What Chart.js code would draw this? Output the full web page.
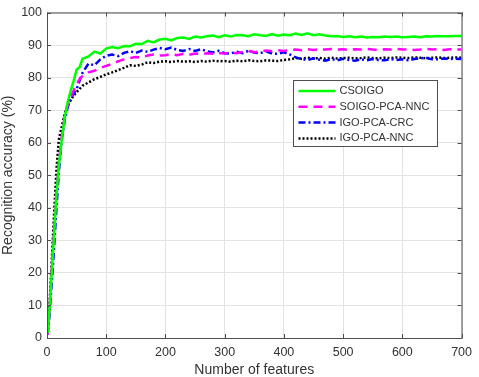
<!DOCTYPE html>
<html>
<head>
<meta charset="utf-8">
<script src="https://cdn.jsdelivr.net/npm/chart.js@4"></script>
<style>
  html, body { margin: 0; padding: 0; background: #fff; }
  #wrap { width: 479px; height: 377px; }
</style>
</head>
<body>
<div id="wrap"><canvas id="acc"></canvas></div>
<script>
// number of features (x positions of the samples)
const features = [1, 3, 5, 7, 10, 13, 16, 20, 25, 30, 35, 40, 45, 50, 55, 60, 70, 80, 90, 100,
  110, 120, 130, 140, 150, 160, 170, 180, 190, 200,
  210, 220, 230, 240, 250, 260, 270, 280, 290, 300,
  310, 320, 330, 340, 350, 360, 370, 380, 390, 400,
  410, 420, 430, 440, 450, 460, 470, 480, 490, 500,
  510, 520, 530, 540, 550, 560, 570, 580, 590, 600,
  610, 620, 630, 640, 650, 660, 670, 680, 690, 700];

const csoigo = [1.5, 5.5, 11, 17, 26, 35, 44, 53, 61, 68, 72.5, 76, 79, 82.5, 83.2, 85.8, 86.5, 88.0, 87.4, 88.9,
  89.4, 89.0, 89.7, 89.6, 90.4, 90.3, 91.3, 90.8, 91.7, 91.9,
  91.4, 92.2, 92.3, 91.9, 92.6, 92.3, 92.7, 92.9, 92.4, 93.0,
  92.6, 93.1, 93.0, 92.7, 93.3, 93.0, 92.8, 93.4, 92.9, 93.2,
  93.0, 93.5, 93.1, 93.6, 93.0, 93.3, 92.9, 92.7, 92.8, 92.5,
  92.7, 92.4, 92.6, 92.3, 92.5, 92.4, 92.6, 92.5, 92.6, 92.4,
  92.5, 92.6, 92.4, 92.7, 92.6, 92.8, 92.7, 92.7, 92.8, 92.8];

const soigoPcaNnc = [1, 5.5, 11, 17.5, 27, 36, 45, 54, 62, 68, 71.5, 74, 76, 78, 79.5, 80.5, 81.6, 82.1, 83.0, 83.6,
  84.2, 85.0, 85.6, 86.0, 86.3, 86.2, 86.8, 87.1, 86.8, 86.9,
  87.2, 86.9, 87.3, 87.0, 87.4, 87.2, 87.5, 87.3, 87.6, 87.4,
  87.7, 87.5, 87.9, 88.2, 87.8, 88.0, 88.3, 88.1, 88.4, 88.2,
  88.5, 88.6, 88.4, 88.7, 88.5, 88.7, 88.6, 88.8, 88.6, 88.7,
  88.5, 88.7, 88.6, 88.8, 88.6, 88.5, 88.7, 88.6, 88.8, 88.6,
  88.7, 88.5, 88.6, 88.8, 88.6, 88.7, 88.5, 88.7, 88.6, 88.6];

const igoPcaCrc = [1, 4.5, 9, 14.5, 22, 31, 40, 51, 61, 67, 71, 73.5, 75, 76.5, 79, 81.5, 84.3, 83.8, 85.6, 86.7,
  87.1, 86.6, 87.6, 88.1, 87.6, 88.3, 87.9, 88.6, 89.1, 88.7,
  89.2, 88.5, 88.2, 88.8, 88.2, 88.7, 88.1, 87.7, 88.2, 87.5,
  87.4, 88.0, 87.5, 88.2, 87.7, 87.5, 88.1, 87.4, 87.3, 87.8,
  87.1, 86.2, 85.7, 85.4, 85.9, 85.5, 85.2, 85.7, 85.3, 85.8,
  85.4, 85.2, 85.6, 85.3, 85.7, 85.4, 85.3, 85.7, 85.4, 85.6,
  85.3, 85.7, 85.9, 86.1, 85.6, 85.6, 85.9, 85.7, 85.8, 85.7];

const igoPcaNnc = [2, 7, 13, 20, 31, 42, 52, 61, 65, 69, 71.5, 73, 74.5, 75.5, 76.5, 77.5, 78.5, 79.5, 80.2, 81.0,
  81.6, 82.3, 83.0, 83.8, 83.6, 84.0, 84.7, 84.5, 84.9, 85.0,
  84.8, 85.1, 84.9, 85.0, 84.8, 85.1, 84.9, 85.2, 85.0, 85.1,
  84.9, 85.2, 85.0, 85.3, 85.1, 85.0, 85.3, 85.2, 85.1, 85.4,
  85.6, 86.0, 85.8, 86.1, 85.9, 86.0, 85.8, 86.1, 85.9, 86.0,
  86.1, 85.9, 86.0, 86.2, 86.0, 85.9, 86.1, 86.0, 86.2, 86.1,
  86.0, 86.2, 86.1, 85.9, 86.1, 86.2, 86.0, 86.1, 86.2, 86.1];

const xTicks = [0, 100, 200, 300, 400, 500, 600, 700];
const yTicks = [0, 10, 20, 30, 40, 50, 60, 70, 80, 90, 100];

const FONT = "'Liberation Sans', Arial, sans-serif";
const AXIS = '#4d4d4d';
const TEXT = '#333333';

function pts(ys) {
    return features.map((f, i) => ({ x: f, y: ys[i] }));
}

const series = [
    { label: 'CSOIGO', data: csoigo, color: '#00ff00', dash: [], width: 2.5 },
    { label: 'SOIGO-PCA-NNC', data: soigoPcaNnc, color: '#ff00ff', dash: [9, 6], width: 2.5 },
    { label: 'IGO-PCA-CRC', data: igoPcaCrc, color: '#0000ff', dash: [7, 3, 2, 3], width: 2.5 },
    { label: 'IGO-PCA-NNC', data: igoPcaNnc, color: '#000000', dash: [2, 2], width: 2.5 }
];

// box round the axes with inward ticks, like matlab
const frame = {
    id: 'frame',
    afterDatasetsDraw(chart) {
        const { ctx, chartArea: a, scales } = chart;
        ctx.save();
        ctx.strokeStyle = AXIS;
        ctx.lineWidth = 1;
        ctx.strokeRect(a.left + 0.5, a.top + 0.5, a.right - a.left, a.bottom - a.top);
        ctx.beginPath();
        xTicks.forEach(t => {
            const x = Math.round(scales.x.getPixelForValue(t)) + 0.5;
            ctx.moveTo(x, a.bottom); ctx.lineTo(x, a.bottom - 4);
            ctx.moveTo(x, a.top); ctx.lineTo(x, a.top + 4);
        });
        yTicks.forEach(t => {
            const y = Math.round(scales.y.getPixelForValue(t)) + 0.5;
            ctx.moveTo(a.left, y); ctx.lineTo(a.left + 4, y);
            ctx.moveTo(a.right, y); ctx.lineTo(a.right - 4, y);
        });
        ctx.stroke();
        ctx.restore();
    }
};

// legend box inside the plot
const boxLegend = {
    id: 'boxLegend',
    afterDraw(chart) {
        const ctx = chart.ctx;
        const bx = 293.5, by = 80.5, bw = 144, bh = 66;
        ctx.save();
        ctx.fillStyle = '#fff';
        ctx.fillRect(bx, by, bw, bh);
        ctx.strokeStyle = AXIS;
        ctx.lineWidth = 1;
        ctx.strokeRect(bx, by, bw, bh);
        ctx.font = '11px ' + FONT;
        ctx.textBaseline = 'middle';
        ctx.fillStyle = TEXT;
        series.forEach((s, i) => {
            const y = by + 10.5 + i * 15.8;
            ctx.beginPath();
            ctx.strokeStyle = s.color;
            ctx.lineWidth = s.width;
            ctx.setLineDash(s.dash);
            ctx.moveTo(bx + 5, y);
            ctx.lineTo(bx + 42, y);
            ctx.stroke();
            ctx.setLineDash([]);
            ctx.fillText(s.label, bx + 46, y);
        });
        ctx.restore();
    }
};

new Chart(document.getElementById('acc'), {
    type: 'line',
    data: {
        datasets: series.map(s => ({
            label: s.label,
            data: pts(s.data),
            borderColor: s.color,
            borderWidth: s.width,
            borderDash: s.dash,
            pointRadius: 0,
            fill: false,
            tension: 0
        }))
    },
    options: {
        responsive: true,
        maintainAspectRatio: false,
        animation: false,
        layout: { padding: { top: 10, right: 17, left: 0, bottom: 0 } },
        plugins: {
            legend: { display: false },
            tooltip: { enabled: false }
        },
        scales: {
            x: {
                type: 'linear',
                min: 0,
                max: 700,
                afterFit: s => { s.height = 39; },
                afterBuildTicks: s => { s.ticks = xTicks.map(v => ({ value: v })); },
                ticks: { color: TEXT, font: { family: FONT, size: 12.5 }, padding: 7, maxRotation: 0 },
                grid: { color: '#e3e3e3', drawTicks: false },
                border: { display: false },
                title: { display: true, text: 'Number of features', color: TEXT, font: { family: FONT, size: 14 }, padding: { top: 1, bottom: -2 } }
            },
            y: {
                min: 0,
                max: 100,
                afterFit: s => { s.width = 47; },
                afterBuildTicks: s => { s.ticks = yTicks.map(v => ({ value: v })); },
                ticks: { color: TEXT, font: { family: FONT, size: 12.5 }, padding: 5 },
                grid: { color: '#e3e3e3', drawTicks: false },
                border: { display: false },
                title: { display: true, text: 'Recognition accuracy (%)', color: TEXT, font: { family: FONT, size: 14 }, padding: { top: 0, bottom: 2 } }
            }
        }
    },
    plugins: [frame, boxLegend]
});
</script>
</body>
</html>
